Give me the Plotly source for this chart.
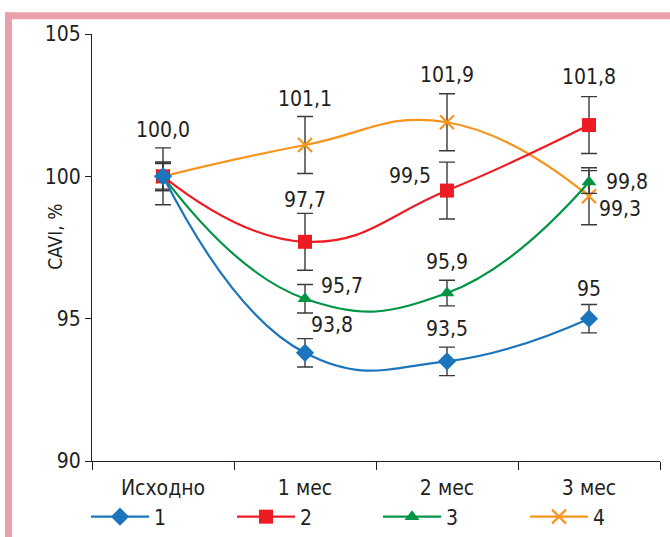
import plotly.graph_objects as go

# Measurement points
categories = ["Исходно", "1 мес", "2 мес", "3 мес"]

# CAVI, % of baseline, per group
group1 = [100.0, 93.8, 93.5, 95.0]
group2 = [100.0, 97.7, 99.5, 101.8]
group3 = [100.0, 95.7, 95.9, 99.8]
group4 = [100.0, 101.1, 101.9, 99.3]

# Error bar half-widths
err1 = [0.5, 0.5, 0.5, 0.5]
err2 = [0.5, 1.0, 1.0, 1.0]
err3 = [0.45, 0.5, 0.45, 0.4]
err4 = [1.0, 1.0, 1.0, 1.0]

# Value labels per point
labels1 = ["", "93,8", "93,5", "95"]
labels2 = ["", "97,7", "99,5", "101,8"]
labels3 = ["", "95,7", "95,9", "99,8"]
labels4 = ["100,0", "101,1", "101,9", "99,3"]

FONT = "Liberation Sans Narrow, Arial Narrow, DejaVu Sans Condensed, sans-serif"
TEXT = "#231F20"
FS = 21

# Plot-area geometry in pixels (used to place the legend row)
L, R, T, B = 92, 10, 34, 76
W, H = 670, 537
PW, PH = W - L - R, H - T - B

series = [
    # name, values, errors, color, marker symbol, size, legend id, legend left px
    ("4", group4, err4, "#F7941D", "x-thin", 14, "legend4", 525),
    ("3", group3, err3, "#009444", "triangle-up", 13, "legend3", 378),
    ("2", group2, err2, "#ED1C24", "square", 14, "legend2", 232),
    ("1", group1, err1, "#1B75BC", "diamond", 14, "legend", 86),
]

fig = go.Figure()
legends = {}
for name, vals, errs, color, symbol, size, leg, left in series:
    marker = dict(symbol=symbol, size=size, color=color)
    if symbol == "x-thin":
        marker["line"] = dict(color=color, width=2.2)
    fig.add_trace(go.Scatter(
        x=categories, y=vals, name=name, mode="lines+markers",
        line=dict(color=color, width=2.2, shape="spline", smoothing=1.3),
        marker=marker,
        error_y=dict(type="data", array=errs, visible=True,
                     color="#3A3A3A", thickness=1.4, width=8),
        legend=leg,
    ))
    legends[leg] = dict(
        orientation="h", x=(left - L) / PW, xanchor="left",
        y=-(517 - (T + PH)) / PH, yanchor="middle",
        itemwidth=58, bgcolor="rgba(0,0,0,0)",
        font=dict(family=FONT, size=FS, color=TEXT), itemclick=False,
    )

# Value annotations positioned from each point's value
offsets1 = [(0, 0), (27, 28), (0, 32), (0, 30)]
offsets2 = [(0, 0), (0, 42), (-37, 15), (0, 48)]
offsets3 = [(0, 0), (37, 13), (0, 31), (38, 0)]
offsets4 = [(0, 46), (0, 46), (0, 47), (31, -13)]

annotations = []
for vals, labs, offs in [(group1, labels1, offsets1), (group2, labels2, offsets2),
                         (group3, labels3, offsets3), (group4, labels4, offsets4)]:
    for cat, v, lab, (dx, dy) in zip(categories, vals, labs, offs):
        if not lab:
            continue
        annotations.append(dict(
            x=cat, y=v, xref="x", yref="y", text=lab, showarrow=False,
            xshift=dx, yshift=dy, font=dict(family=FONT, size=FS, color=TEXT),
        ))

# Y-axis title
annotations.append(dict(
    x=-0.088, y=0.525, xref="paper", yref="paper", text="CAVI, %",
    showarrow=False, textangle=-90, font=dict(family=FONT, size=19, color=TEXT),
))

# Frame: pink bars along the left and top edges
border = "#E8A0AA"
shapes = [
    dict(type="line", xref="paper", yref="paper", x0=-0.147, x1=-0.147,
         y0=1.050, y1=-0.2, line=dict(color=border, width=7)),
    dict(type="line", xref="paper", yref="paper", x0=-0.153, x1=1.03,
         y0=1.043, y1=1.043, line=dict(color=border, width=7)),
]

fig.update_layout(
    width=W, height=H,
    margin=dict(l=L, r=R, t=T, b=B, autoexpand=False),
    paper_bgcolor="white", plot_bgcolor="white",
    font=dict(family=FONT, size=FS, color=TEXT),
    showlegend=True,
    annotations=annotations,
    shapes=shapes,
    xaxis=dict(
        type="category", range=[-0.5, 3.5], tickson="boundaries",
        ticks="outside", ticklen=8, tickcolor="#231F20", tickwidth=1,
        ticklabelstandoff=8,
        showline=True, linecolor="#231F20", linewidth=1,
        showgrid=False, zeroline=False,
        tickfont=dict(family=FONT, size=FS, color=TEXT),
    ),
    yaxis=dict(
        range=[90, 105], tickvals=[90, 95, 100, 105],
        ticks="outside", ticklen=6, tickcolor="#231F20", tickwidth=1,
        showline=True, linecolor="#231F20", linewidth=1,
        showgrid=False, zeroline=False,
        tickfont=dict(family=FONT, size=FS, color=TEXT),
    ),
)
fig.update_layout(**legends)

fig.write_html("out.html")
